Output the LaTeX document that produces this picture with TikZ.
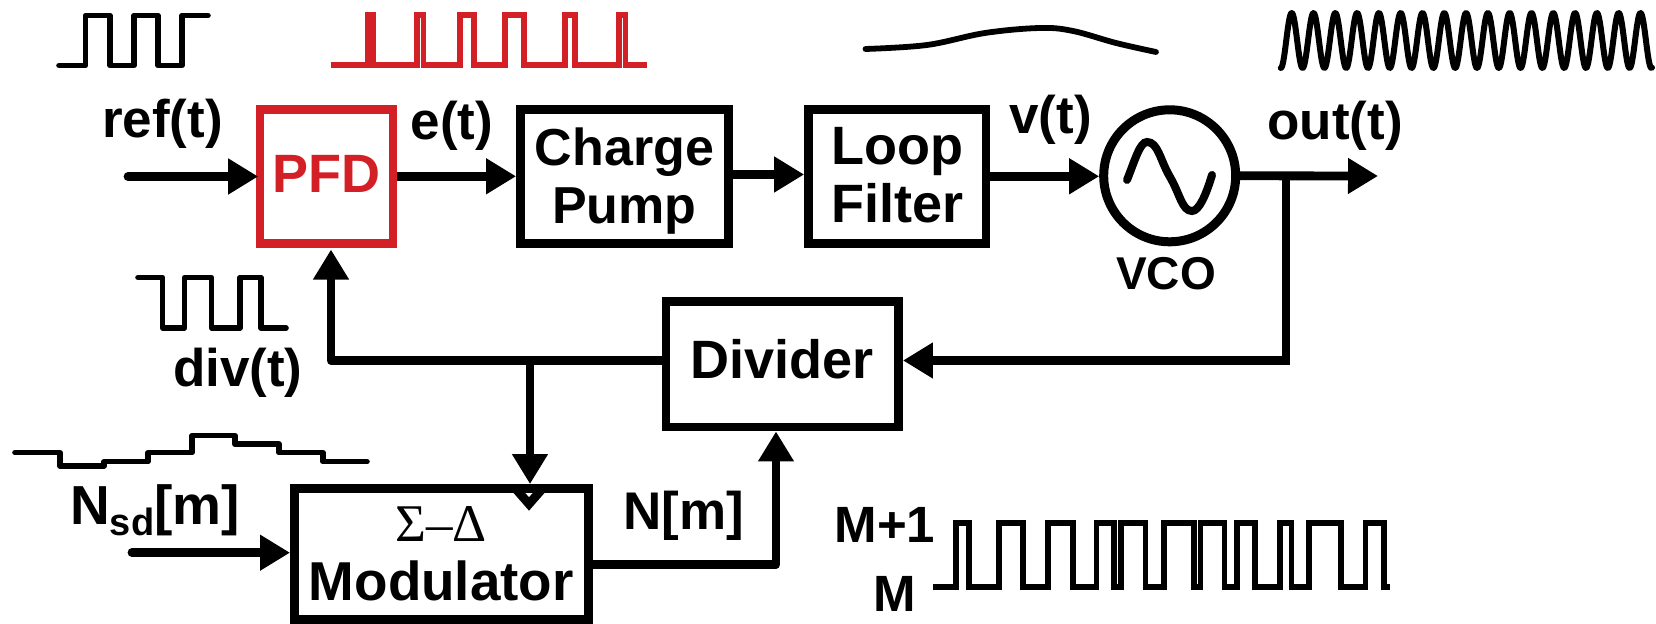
\documentclass[tikz,border=0pt]{standalone}
\usepackage{fontspec}
\setmainfont{Liberation Sans}
\newfontfamily\serifgreek{Liberation Serif}
\usetikzlibrary{arrows.meta,positioning}
\definecolor{pfdred}{HTML}{D32027}
\newcommand{\lblfont}[2]{\fontsize{#1}{#2}\selectfont\bfseries}
\tikzset{
  blockbox/.style={draw,line width=4.4pt,inner sep=0pt,align=center},
  conn/.style={line width=4.4pt,-{Triangle[length=15pt,width=17pt]}},
  lab/.style={font=\lblfont{26.5}{28},inner sep=0pt,anchor=base},
  wave/.style={line width=2.8pt,line join=round,line cap=round},
  sharpwave/.style={line width=2.9pt,line join=miter,line cap=butt},
}
\begin{document}
\begin{tikzpicture}[x=0.5pt,y=-0.5pt]
\useasboundingbox (0,0) rectangle (1656,624);
% blocks
\node[blockbox,draw=pfdred,text=pfdred,font=\lblfont{27}{29},minimum width=66.5pt,minimum height=66.85pt] (pfd) at (326.5,176.3) {PFD\rule[-2.2pt]{0pt}{0pt}};
\node[blockbox,font=\lblfont{26}{29},minimum width=104pt,minimum height=66.85pt] (cp) at (624.5,176.3) {\rule{0pt}{24pt}Charge\\Pump};
\node[blockbox,font=\lblfont{27}{29},minimum width=88.75pt,minimum height=66.85pt] (lf) at (897.3,176.3) {Loop\\Filter\rule[-1.5pt]{0pt}{0pt}};
\node[circle,draw,line width=4.5pt,minimum size=66pt,inner sep=0pt] (vco) at (1169.7,175.8) {};
\node[blockbox,font=\lblfont{27}{29},minimum width=116.25pt,minimum height=62.75pt] (div) at (782.3,364.3) {Divider\rule[-5.6pt]{0pt}{0pt}};
\node[blockbox,font=\lblfont{27.4}{29.5},minimum width=146.85pt,minimum height=65.5pt] (mod) at (441.3,554) {{\serifgreek\mdseries\fontsize{26.5}{29.5}\selectfont Σ–Δ}\\Modulator};
% free connector ends
\coordinate (refin) at (128,176.5);
\coordinate (outend) at (1378,176);
\coordinate (tap) at (1286,176);
\coordinate (nsdin) at (132,552.7);
\coordinate (fbjoin) at (530,360.5);
\coordinate (fbcorner) at (331,360.5);
\coordinate (modcorner) at (776,564.5);
\coordinate (divtapcorner) at (1286,360.5);
% connectors
\draw[conn,line cap=round,shorten >=-1.3pt] (refin) -- (refin -| pfd.west);
\draw[conn] (pfd.east) -- (cp.west);
\draw[conn] ([yshift=0.9pt]cp.east) -- ([yshift=0.9pt]lf.west);
\draw[conn] (lf.east) -- (vco.west |- lf.east);
\draw[conn] (vco.east) -- (outend);
\draw[conn,line join=miter] (tap) -- (divtapcorner) -- (div.east |- divtapcorner);
\draw[conn,line join=round,shorten >=1pt] (div.west |- fbcorner) -- (fbcorner) -- (fbcorner |- pfd.south);
\draw[conn] (fbjoin) -- (fbjoin |- mod.north);
\draw[conn,line cap=round] (nsdin) -- (nsdin -| mod.west);
\draw[conn,line join=round] (mod.east |- modcorner) -- (modcorner) -- (modcorner |- div.south);
% clock chevron
\draw[line width=4.4pt,line join=miter] (515,488) -- (529,504) -- (543,488);
% VCO sine
\draw[line width=4pt,line cap=round] (1127,180) .. controls (1135,160) and (1140,142) .. (1147,142) .. controls (1158,142) and (1160,160) .. (1170,177) .. controls (1180,194) and (1182,211) .. (1192,211) .. controls (1199,211) and (1206,195) .. (1212,175);
% labels
\node[lab] (lref) at (162.5,138) {ref(t)};
\node[lab] (le) at (452,139.3) {e(t)};
\node[lab] (lv) at (1050.5,133.3) {v(t)};
\node[lab] (lout) at (1335,139.3) {out(t)};
\node[lab,font=\lblfont{23}{25}] (lvco) at (1166,290) {VCO};
\node[lab] (ldiv) at (237.8,387) {div(t)};
\node[lab,font=\lblfont{27.5}{29}] (lnsd) at (155,525) {N\raisebox{-0.2em}{\fontsize{19}{19}\selectfont sd}[m]};
\node[lab] (ln) at (683.7,530) {N[m]};
\node[lab,font=\lblfont{25.5}{28}] (lm1) at (885,543) {M+1};
\node[lab,font=\lblfont{25.5}{28}] (lm) at (895,611.7) {M};
% waveforms
\draw[wave] (59,65.5) -- (85.5,65.5) -- (85.5,15.5) -- (110,15.5) -- (110,65.5) -- (134,65.5) -- (134,15.5) -- (158,15.5) -- (158,65.5) -- (182,65.5) -- (182,15.5) -- (208,15.5);
\draw[sharpwave,pfdred] (331,65) -- (368,65) -- (368,15) -- (373,15) -- (373,65) -- (416.7,65) -- (416.7,15) -- (423.4,15) -- (423.4,65) -- (460,65) -- (460,15) -- (474,15) -- (474,65) -- (504.6,65) -- (504.6,15) -- (524,15) -- (524,65) -- (565,65) -- (565,15) -- (575,15) -- (575,65) -- (619,65) -- (619,15) -- (625.5,15) -- (625.5,65) -- (647,65);
\draw[line width=2.9pt,line cap=round,line join=round] plot[smooth,tension=0.6] coordinates {(865.5,49) (927,45) (985,33) (1040,28) (1073,31) (1116,43) (1156,52)};
\draw[line width=3pt,line cap=round,line join=round] plot[domain=1280.8:1652,samples=700] (\x,{40.5-27.5*cos((\x-1291.7)/21.8*360)});
\draw[wave] (138,277.5) -- (162.6,277.5) -- (162.6,328) -- (184.5,328) -- (184.5,277.5) -- (211.6,277.5) -- (211.6,328) -- (240,328) -- (240,277.5) -- (261,277.5) -- (261,328) -- (286,328);
\draw[wave] (15,452.7) -- (60,452.7) -- (60,466) -- (104,466) -- (104,461.7) -- (148,461.7) -- (148,452.7) -- (192,452.7) -- (192,435.7) -- (235,435.7) -- (235,444.3) -- (279,444.3) -- (279,452.7) -- (323,452.7) -- (323,461.7) -- (367,461.7);
\draw[sharpwave] (933,587) -- (956.2,587) -- (956.2,522.7) -- (968.6,522.7) -- (968.6,587) -- (998.7,587) -- (998.7,522.7) -- (1023.2,522.7) -- (1023.2,587) -- (1047.6,587) -- (1047.6,522.7) -- (1072.8,522.7) -- (1072.8,587) -- (1096.5,587) -- (1096.5,522.7) -- (1114.3,522.7) -- (1114.3,587) -- (1120.9,587) -- (1120.9,522.7) -- (1145.4,522.7) -- (1145.4,587) -- (1164.2,587) -- (1164.2,522.7) -- (1193.6,522.7) -- (1193.6,587) -- (1200.4,587) -- (1200.4,522.7) -- (1224.4,522.7) -- (1224.4,587) -- (1236.9,587) -- (1236.9,522.7) -- (1255.3,522.7) -- (1255.3,587) -- (1279.7,587) -- (1279.7,522.7) -- (1291.4,522.7) -- (1291.4,587) -- (1309.1,587) -- (1309.1,522.7) -- (1341.1,522.7) -- (1341.1,587) -- (1365.5,587) -- (1365.5,522.7) -- (1384.3,522.7) -- (1384.3,587) -- (1390,587);
\end{tikzpicture}
\end{document}
